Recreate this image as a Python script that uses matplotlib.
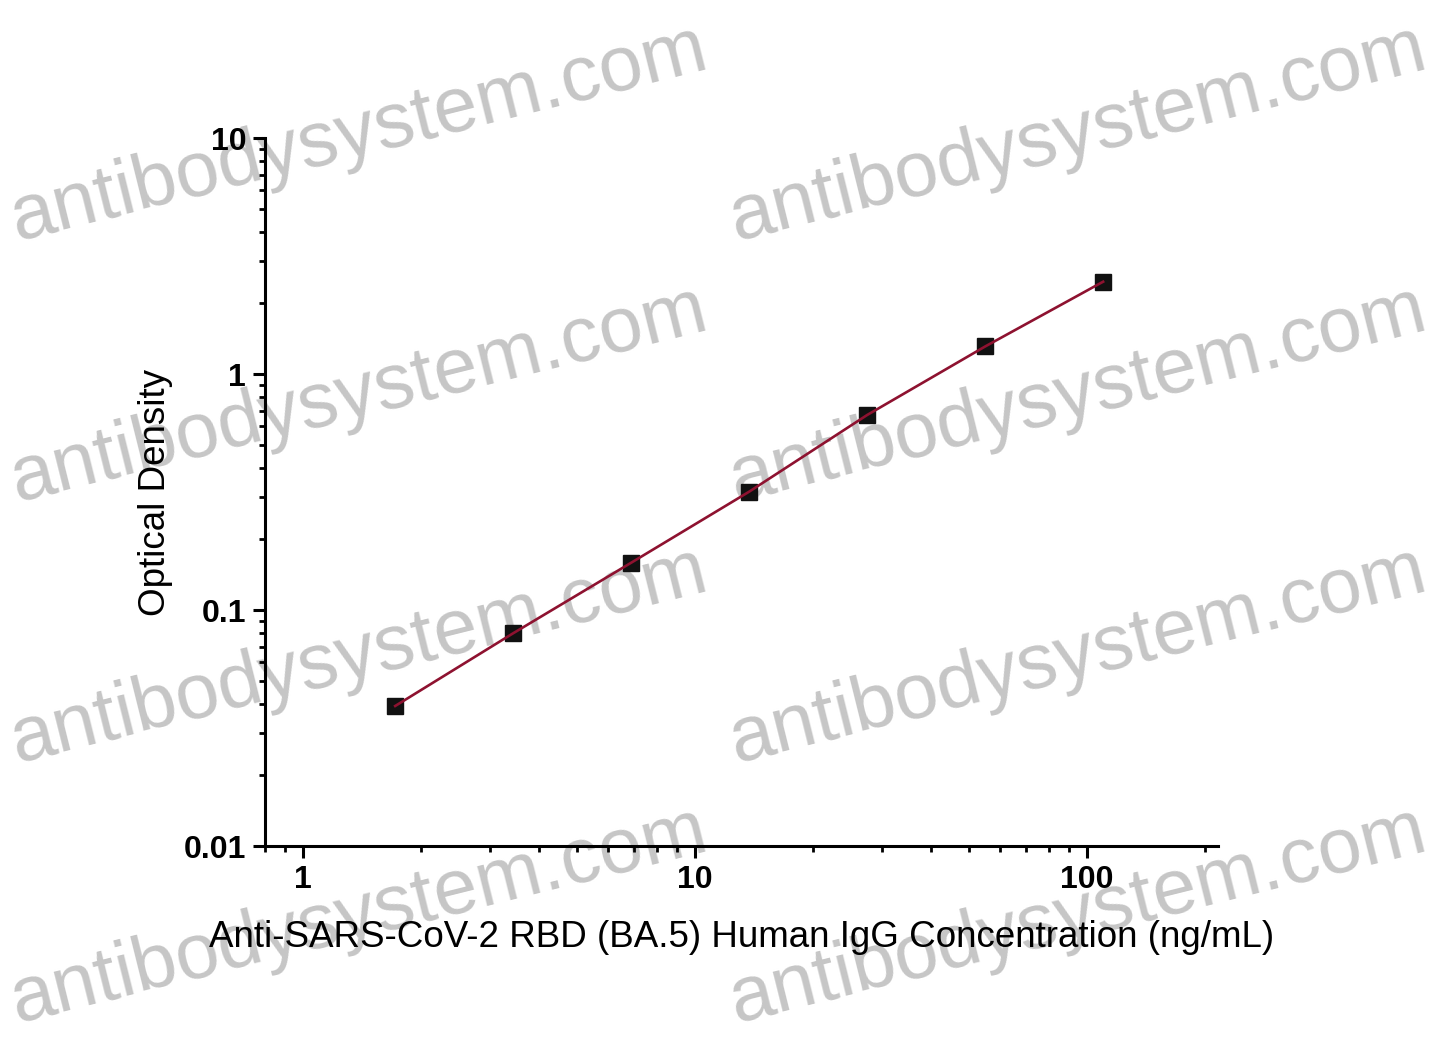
import matplotlib
matplotlib.use("Agg")
import matplotlib.pyplot as plt
from matplotlib.ticker import LogLocator, FixedLocator, NullFormatter, FixedFormatter

plt.rcParams['font.family'] = ['Liberation Sans', 'DejaVu Sans']

# Data
concentration = [1.71875, 3.4375, 6.875, 13.75, 27.5, 55, 110]
optical_density = [0.0392, 0.0797, 0.1586, 0.3172, 0.6703, 1.308, 2.461]
x_ticks = [1, 10, 100]
x_tick_labels = ["1", "10", "100"]
y_ticks = [0.01, 0.1, 1, 10]
y_tick_labels = ["0.01", "0.1", "1", "10"]
x_label = "Anti-SARS-CoV-2 RBD (BA.5) Human IgG Concentration (ng/mL)"
y_label = "Optical Density"
watermark = "antibodysystem.com"

W, H = 1440, 1046
fig = plt.figure(figsize=(W / 100, H / 100), dpi=100)
fig.patch.set_facecolor('white')

# Watermarks (behind the chart)
for px in [17, 736]:
    for py in [240, 501, 762, 1022]:
        fig.text(px / W, 1 - py / H, watermark, fontsize=56.5, color='#c6c6c6',
                 rotation=14, rotation_mode='anchor', ha='left', va='baseline',
                 zorder=-5)

ax = fig.add_axes([265 / W, 1 - 846 / H, (1218 - 265) / W, (846 - 138) / H])
ax.patch.set_alpha(0)
ax.set_xscale('log')
ax.set_yscale('log')
ax.set_xlim(0.8, 216)
ax.set_ylim(0.01, 10)

ax.plot(concentration, optical_density, linestyle='none', marker='s',
        markersize=12, color='#111111', zorder=3)
ax.plot(concentration, optical_density, color='#8e1230', linewidth=1.9, zorder=4)

for s in ['top', 'right']:
    ax.spines[s].set_visible(False)
for s in ['left', 'bottom']:
    ax.spines[s].set_linewidth(2.2)

ax.xaxis.set_major_locator(FixedLocator(x_ticks))
ax.xaxis.set_major_formatter(FixedFormatter(x_tick_labels))
ax.yaxis.set_major_locator(FixedLocator(y_ticks))
ax.yaxis.set_major_formatter(FixedFormatter(y_tick_labels))
ax.xaxis.set_minor_locator(LogLocator(base=10, subs=range(2, 10)))
ax.yaxis.set_minor_locator(LogLocator(base=10, subs=range(2, 10)))
ax.xaxis.set_minor_formatter(NullFormatter())
ax.yaxis.set_minor_formatter(NullFormatter())

ax.tick_params(which='major', direction='out', length=8.5, width=2.2, labelsize=23, pad=5)
ax.tick_params(which='minor', direction='out', length=4.5, width=2.0)
for lbl in ax.get_xticklabels() + ax.get_yticklabels():
    lbl.set_fontweight('bold')

ax.set_xlabel(x_label, fontsize=26.5)
ax.set_ylabel(y_label, fontsize=26.5)
ax.xaxis.set_label_coords(0.5, -0.104)
ax.yaxis.set_label_coords(-0.097, 0.5)

fig.savefig('out.png', dpi=100)
